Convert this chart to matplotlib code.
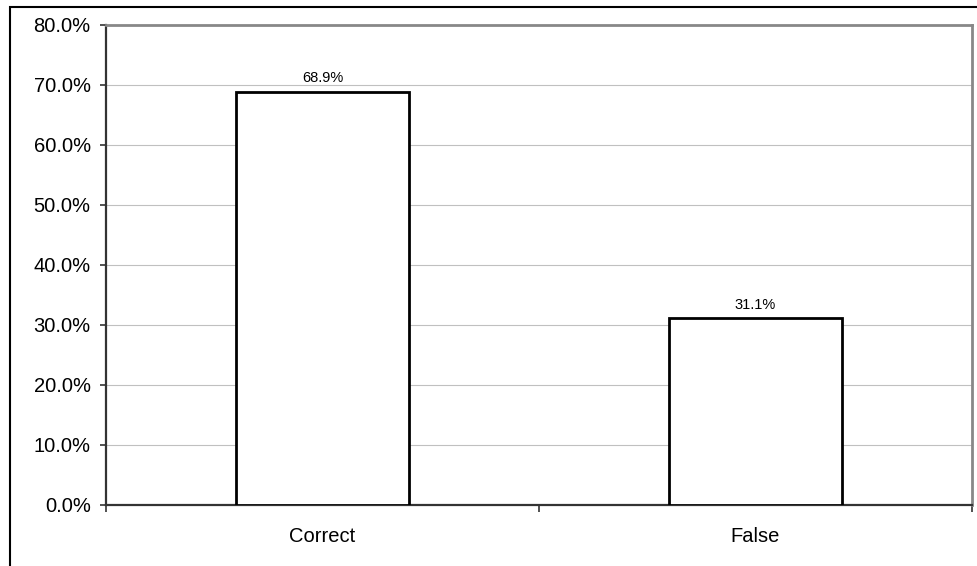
import matplotlib
matplotlib.use("Agg")
import matplotlib.pyplot as plt
from matplotlib.patches import Rectangle
from matplotlib.ticker import FuncFormatter

categories = ["Correct", "False"]
shares = [68.9, 31.1]
bar_labels = ["68.9%", "31.1%"]

plt.rcParams['font.family'] = ['Liberation Sans', 'DejaVu Sans']

fig = plt.figure(figsize=(9.78, 5.66), dpi=100)
ax = fig.add_axes([106 / 978, 1 - 505 / 566, (972 - 106) / 978, (505 - 25) / 566])

# outer frame, only left and top edges visible
fig.patches.append(Rectangle((10 / 978, -0.5), 2.0, 0.5 + 1 - 7 / 566,
                             transform=fig.transFigure, fill=False,
                             edgecolor='black', linewidth=1.5, zorder=0))

x = list(range(len(categories)))
ax.bar(x, shares, width=0.4, color='white', edgecolor='black', linewidth=2, zorder=3)

for xi, v, lab in zip(x, shares, bar_labels):
    ax.annotate(lab, (xi, v), xytext=(0, 4.5), textcoords='offset points',
                ha='center', va='bottom', fontsize=10.5)

ax.set_xlim(-0.5, 1.5)
ax.set_ylim(0, 80)
ax.set_yticks(range(0, 81, 10))
ax.yaxis.set_major_formatter(FuncFormatter(lambda v, p: f"{v:.1f}%"))
ax.tick_params(axis='y', labelsize=14.5, length=4, width=1.2, color='#333333', pad=7)

ax.set_xticks([-0.5, 0.5, 1.5])
ax.set_xticklabels([])
ax.set_xticks(x, minor=True)
ax.set_xticklabels(categories, minor=True)
ax.tick_params(axis='x', which='major', length=5, width=1.2, color='#333333')
ax.tick_params(axis='x', which='minor', length=0, labelsize=14.5, pad=16)

ax.grid(axis='y', color='#c0c0c0', linewidth=0.8, zorder=0)
ax.set_axisbelow(True)

for s in ['left', 'bottom']:
    ax.spines[s].set_color('#333333')
    ax.spines[s].set_linewidth(1.6)
for s in ['top', 'right']:
    ax.spines[s].set_color('#888888')
    ax.spines[s].set_linewidth(2)

fig.savefig("out.png", dpi=100)
